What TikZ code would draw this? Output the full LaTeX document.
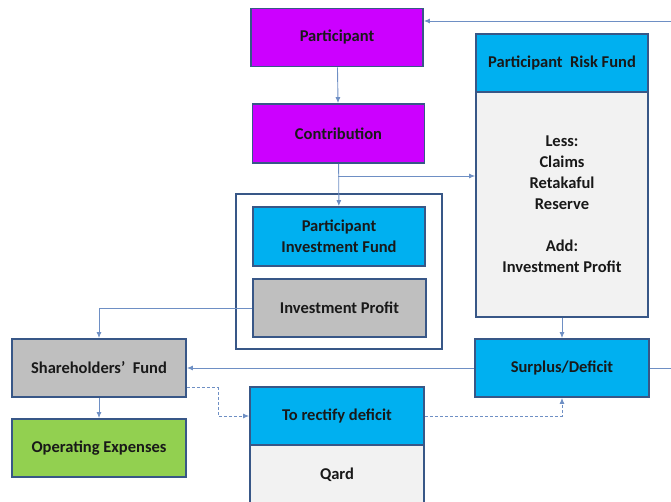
\documentclass[tikz,border=0pt]{standalone}
\usepackage{fontspec}
\setmainfont{Carlito}
\usetikzlibrary{arrows.meta,positioning,calc}
\definecolor{boxline}{RGB}{56,87,135}
\definecolor{connline}{RGB}{110,143,196}
\definecolor{violetfill}{RGB}{204,0,255}
\definecolor{bluefill}{RGB}{0,176,240}
\definecolor{greyfill}{RGB}{191,191,191}
\definecolor{palefill}{RGB}{242,242,242}
\definecolor{greenfill}{RGB}{146,208,80}

\begin{document}
\begin{tikzpicture}[x=1pt,y=-1pt,>={Latex[length=6pt,width=5pt]},
  font=\fontsize{16.5}{21}\selectfont\bfseries,
  fbox/.style={draw=boxline,line width=1.8pt,minimum width=172pt,minimum height=58pt,align=center,text=black!90,inner sep=0pt},
  conn/.style={draw=connline,line width=0.9pt,->},
  dconn/.style={conn,dash pattern=on 3pt off 2pt}]
\useasboundingbox (0,0) rectangle (671,502);
% left column of the flow
\node[fbox,minimum width=206pt,minimum height=155pt,fill=white] (frame) at (339,271.5) {};
\node[fbox,fill=violetfill] (part) at (337,37.5) {Participant};
\node[fbox,fill=violetfill,minimum height=59pt] (contr) at (338.5,133.5) {Contribution};
\node[fbox,fill=bluefill,minimum height=59pt] (pif) at (339,236.5) {Participant\\Investment Fund};
\node[fbox,fill=greyfill,minimum width=173pt] (ipro) at (339.5,308) {Investment Profit};
% risk fund
\node[fbox,fill=palefill,minimum height=225pt] (prfbody) at (562,204.5) {Less:\\Claims\\Retakaful\\Reserve\\[21pt]Add:\\Investment Profit};
\node[fbox,fill=bluefill] (prf) at (562,63) {Participant~ Risk Fund};
\node[fbox,fill=bluefill,minimum width=174pt] (sd) at (562,368) {Surplus/Deficit};
% shareholders
\node[fbox,fill=greyfill,minimum width=174pt] (sf) at (99,368) {Shareholders’~ Fund};
\node[fbox,fill=greenfill,minimum width=174pt] (opex) at (99,448) {Operating Expenses};
\node[fbox,fill=palefill,minimum width=174pt,minimum height=60pt] (qard) at (337,475) {Qard};
\node[fbox,fill=bluefill,minimum width=174pt] (rect) at (337,416) {To rectify deficit};
% connectors
\coordinate (split) at (338,176);
\coordinate (loop) at (700,21);
\coordinate (sfd) at ($(sf.south east)+(0,-10)$);
\coordinate (dk) at (218,416);
\draw[conn] (part) -- (contr);
\draw[conn] (contr) -- (pif);
\draw[conn] (split) -- (split -| prfbody.west);
\draw[conn] (ipro.west) -| (sf.north);
\draw[conn] (sf) -- (opex);
\draw[conn] (prfbody) -- (sd);
\draw[conn] (sd) -- (sf);
\draw[conn] (sd.east) -| (loop) -- (loop -| part.east);
\draw[dconn] (sfd) -| (dk) -- (rect.west);
\draw[dconn] (rect.east) -| (sd.south);
\end{tikzpicture}
\end{document}
